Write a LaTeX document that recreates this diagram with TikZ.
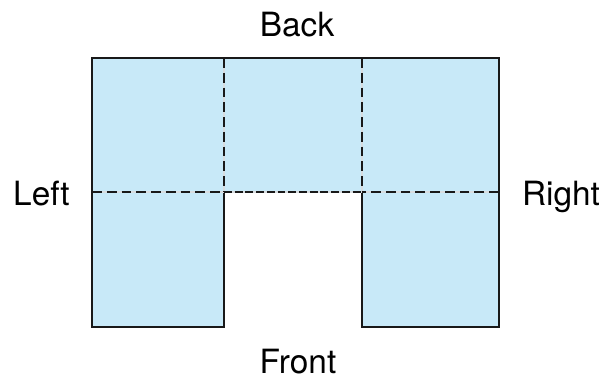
\documentclass[tikz,border=0pt]{standalone}
\usepackage{fontspec}
\setmainfont{TeX Gyre Heros}
\usepackage{tikz}
\usetikzlibrary{positioning}
\definecolor{colorbox}{HTML}{C8E9F8}
\definecolor{colorgap}{HTML}{D8DDE0}
\tikzset{
  outline/.style={draw=black!90, line width=1.5pt, fill=colorbox, line join=miter},
  foldgap/.style={colorgap, line width=1.4pt},
  fold/.style={black!90, line width=1.4pt, dash pattern=on 5.6pt off 2.8pt},
  foldmid/.style={black!90, line width=1.4pt, dash pattern=on 4.5pt off 1.6pt},
  side/.style={draw=none, inner sep=0pt, anchor=base, font=\fontsize{19}{22}\selectfont}
}
\begin{document}
\begin{tikzpicture}[x=0.02cm, y=-0.02cm]
\useasboundingbox (0,0) rectangle (611,379);

\coordinate (tl) at (92,58);
\coordinate (tr) at (499,58);
\coordinate (br) at (499,327);
\coordinate (bl) at (92,327);
\coordinate (ml) at (92,192);
\coordinate (mr) at (499,192);
\coordinate (nl) at (224,192);
\coordinate (nr) at (362,192);
\coordinate (ul) at (224,58);
\coordinate (ur) at (362,58);

% U shaped sheet
\path[outline] (tl) -- (tr) -- (br) -- (362,327) -- (nr) -- (nl)
  -- (224,327) -- (bl) -- cycle;
\draw[black!90, line width=1.5pt] (nr) -- (362,327);
\draw[black!90, line width=1.5pt] (nl) -- (224,327);

% fold lines
\draw[foldgap] (ml) -- (nl) (nr) -- (mr) (ul) -- (nl) (ur) -- (nr);
\draw[fold] (ml) -- (nl);
\draw[fold] (mr) -- (nr);
\draw[fold] (ul) -- (nl);
\draw[fold] (ur) -- (nr);
\draw[foldgap] (nl) -- (nr);
\draw[foldmid] (nl) -- (nr);

% labels
\node[side] (back) at (297,36) {Back};
\node[side] (front) at (298,373) {Front};
\node[side] (left) at (41.5,205) {Left};
\node[side] (right) at (561,205) {Right};
\end{tikzpicture}
\end{document}
